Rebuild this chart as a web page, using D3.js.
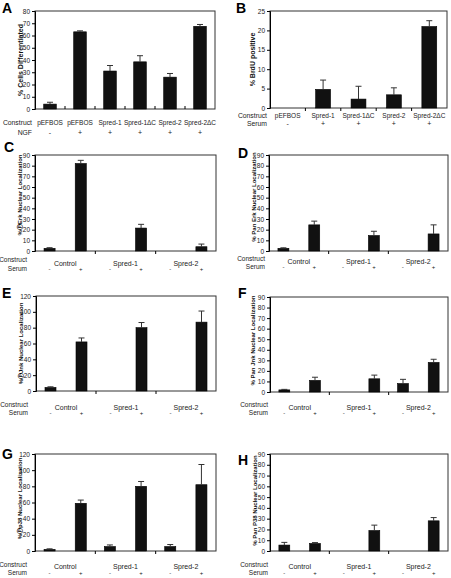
<!DOCTYPE html>
<html><head><meta charset="utf-8">
<script src="https://cdn.jsdelivr.net/npm/d3@7"></script>
<style>
body{margin:0;background:#fff;}
svg{display:block;font-family:"Liberation Sans",Arial,sans-serif;}
</style></head>
<body><svg id="c" width="451" height="578"></svg>
<script>
// ---------- DATA ----------
const constructsA = ["pEFBOS","pEFBOS","Spred-1","Spred-1ΔC","Spred-2","Spred-2ΔC"];
const ngfA = ["-","+","+","+","+","+"];
const valuesA = [4, 63, 31, 38.5, 26, 67.5];
const errorsA = [1.5, 0.8, 4.5, 5, 3, 1.5];
const ticksA = [0,10,20,30,40,50,60,70,80];

const constructsB = ["pEFBOS","Spred-1","Spred-1ΔC","Spred-2","Spred-2ΔC"];
const serumB = ["-","+","+","+","+"];
const valuesB = [0, 4.8, 2.3, 3.4, 21];
const errorsB = [0, 2.4, 3.3, 1.8, 1.5];
const ticksB = [0,5,10,15,20,25];

const groups = ["Control","Spred-1","Spred-2"];
const serumLevels = ["-","+"];
const ticks90 = [0,10,20,30,40,50,60,70,80,90];
const ticks120 = [0,20,40,60,80,100,120];
// values listed as Control-, Control+, Spred-1-, Spred-1+, Spred-2-, Spred-2+
const valuesC = [2.5, 82, 0, 21.5, 0, 4];
const errorsC = [0.6, 3, 0, 3.5, 0, 2.5];
const valuesD = [2.5, 24.5, 0, 14.5, 0, 16];
const errorsD = [0.5, 3.5, 0, 4, 0, 8.5];
const valuesE = [4.5, 62, 0, 80, 0, 87];
const errorsE = [0.8, 5, 0, 6.5, 0, 14];
const valuesF = [2, 11, 0, 12.5, 8, 28];
const errorsF = [0.5, 3, 0, 3.5, 4, 3];
const valuesG = [2, 59, 5.5, 80, 5.5, 82];
const errorsG = [0.7, 4, 2, 6, 2.5, 25];
const valuesH = [5.5, 7, 0, 19, 0, 28];
const errorsH = [2.5, 0.8, 0, 5, 0, 3];

// ---------- DRAW ----------
const svg = d3.select("#c");

function letter(t, x, y){
  svg.append("text").attr("x",x).attr("y",y).attr("font-size",14).attr("font-weight","bold").text(t);
}

function frame(g, x0, x1, y, ticks, yLabel, yLabelX, yLabelSize, yLabelShift){
  g.append("rect").attr("x",x0).attr("y",y.range()[1]).attr("width",x1-x0)
    .attr("height",y.range()[0]-y.range()[1]).attr("fill","none").attr("stroke","#333").attr("stroke-width",1);
  const ax = g.append("g").attr("transform",`translate(${x0},0)`)
    .call(d3.axisLeft(y).tickValues(ticks).tickSize(3).tickPadding(2));
  ax.selectAll("text").attr("font-size",6.5).attr("fill","#222").attr("font-family","Liberation Sans, Arial");
  ax.selectAll("line,path").attr("stroke","#000");
  g.append("text").attr("transform",`translate(${yLabelX},${(y.range()[0]+y.range()[1])/2 + (yLabelShift||0)}) rotate(-90)`)
    .attr("text-anchor","middle").attr("dy","0.35em").attr("font-size",yLabelSize||6.5).attr("font-weight","bold")
    .attr("fill","#111").text(yLabel);
}

function bars(g, data, xf, bw, y){
  const shown = data.filter(d=>d.v>0);
  g.selectAll(null).data(shown).enter().append("rect")
    .attr("x",d=>xf(d)).attr("width",bw).attr("y",d=>y(d.v)).attr("height",d=>y(0)-y(d.v))
    .attr("fill","#111").attr("stroke","#000").attr("stroke-width",0.6);
  const eb = shown.filter(d=>d.e>0);
  g.selectAll(null).data(eb).enter().append("line")
    .attr("x1",d=>xf(d)+bw/2).attr("x2",d=>xf(d)+bw/2).attr("y1",d=>y(d.v)).attr("y2",d=>y(d.v+d.e))
    .attr("stroke","#333").attr("stroke-width",1);
  g.selectAll(null).data(eb).enter().append("line")
    .attr("x1",d=>xf(d)+bw/2-3).attr("x2",d=>xf(d)+bw/2+3).attr("y1",d=>y(d.v+d.e)).attr("y2",d=>y(d.v+d.e))
    .attr("stroke","#333").attr("stroke-width",1);
}

function smallText(g, t, x, y, anchor, size){
  g.append("text").attr("x",x).attr("y",y).attr("text-anchor",anchor||"middle")
   .attr("font-size",size||6.5).attr("fill","#222").text(t);
}

// Single-category panels (A, B)
function singlePanel(o){
  const g = svg.append("g");
  const y = d3.scaleLinear().domain([0, o.ticks[o.ticks.length-1]]).range([o.yZero, o.yTop]);
  const idx = o.cats.map((c,i)=>i);
  const x = d3.scaleBand().domain(idx).range([o.x0,o.x1]).paddingInner(o.pad).paddingOuter(o.pad/2);
  frame(g, o.x0, o.x1, y, o.ticks, o.yLabel, o.yLabelX, o.yLabelSize);
  const bounds = idx.slice(1).map(i=>x(i) - x.step()*x.paddingInner()/2);
  g.selectAll(null).data(bounds).enter().append("line")
    .attr("x1",d=>d).attr("x2",d=>d).attr("y1",o.yZero+o.tickDir[0]).attr("y2",o.yZero+o.tickDir[1])
    .attr("stroke","#000");
  const data = idx.map(i=>({i, v:o.values[i], e:o.errors[i]}));
  bars(g, data, d=>x(d.i), x.bandwidth(), y);
  smallText(g, "Construct", o.labX, o.row1, "end", 6.8);
  smallText(g, o.row2Name, o.labX, o.row2, "end", 6.8);
  idx.forEach(i=>{
    smallText(g, o.cats[i], x(i)+x.bandwidth()/2, o.row1, "middle", 6.5);
    smallText(g, o.signs[i], x(i)+x.bandwidth()/2, o.row2, "middle", 7);
  });
}

// Grouped panels (C-H)
function groupPanel(o){
  const g = svg.append("g");
  const y = d3.scaleLinear().domain([0, o.ticks[o.ticks.length-1]]).range([o.yZero, o.yTop]);
  const x = d3.scaleBand().domain(groups).range([o.x0,o.x1]).padding(0);
  const xs = d3.scaleBand().domain(serumLevels).range([0,x.bandwidth()]).paddingInner(0.645).paddingOuter(0.29);
  frame(g, o.x0, o.x1, y, o.ticks, o.yLabel, o.yLabelX, 6, o.yLabelShift);
  const bounds = groups.slice(1).map(gr=>x(gr));
  g.selectAll(null).data(bounds).enter().append("line")
    .attr("x1",d=>d).attr("x2",d=>d).attr("y1",o.yZero).attr("y2",o.yZero+3).attr("stroke","#000");
  const data = [];
  groups.forEach((gr,gi)=>serumLevels.forEach((s,si)=>{
    data.push({gr, s, v:o.values[gi*2+si], e:o.errors[gi*2+si]});
  }));
  bars(g, data, d=>x(d.gr)+xs(d.s), xs.bandwidth(), y);
  smallText(g, "Construct", o.labX, o.rowC, "end", 6.5);
  smallText(g, "Serum", o.labX, o.rowS, "end", 6.5);
  groups.forEach(gr=>smallText(g, gr, x(gr)+x.bandwidth()/2, o.rowG, "middle", 7));
  data.forEach(d=>smallText(g, d.s, x(d.gr)+xs(d.s)+xs.bandwidth()/2, o.rowS, "middle", 6));
}

letter("A",2,13); letter("B",236,13); letter("C",4,152); letter("D",238,158);
letter("E",2,298); letter("F",238,298); letter("G",2,459); letter("H",238,465);

singlePanel({cats:constructsA, signs:ngfA, values:valuesA, errors:errorsA, ticks:ticksA,
  x0:35, x1:215, yTop:11, yZero:109, pad:0.58, yLabel:"% Cells Differentiated", yLabelX:21, yLabelSize:7,
  labX:32, row1:125, row2:135, row2Name:"NGF", tickDir:[-3,0]});
singlePanel({cats:constructsB, signs:serumB, values:valuesB, errors:errorsB, ticks:ticksB,
  x0:270, x1:447, yTop:11, yZero:108, pad:0.58, yLabel:"% BrdU positive", yLabelX:253, yLabelSize:7,
  labX:267, row1:118, row2:126, row2Name:"Serum", tickDir:[0,3]});

groupPanel({values:valuesC, errors:errorsC, ticks:ticks90, x0:35, x1:216, yTop:155, yZero:251,
  yLabel:"%\u24C5Erk Nuclear Localization", yLabelX:20, yLabelShift:-8, labX:27, rowC:262, rowS:271, rowG:266});
groupPanel({values:valuesD, errors:errorsD, ticks:ticks90, x0:269, x1:448, yTop:155, yZero:251,
  yLabel:"% Pan Erk Nuclear Localization", yLabelX:254, yLabelShift:-6, labX:265, rowC:261, rowS:269, rowG:264});
groupPanel({values:valuesE, errors:errorsE, ticks:ticks120, x0:36, x1:216, yTop:296, yZero:391,
  yLabel:"%\u24C5Jnk Nuclear Localization", yLabelX:21, labX:28, rowC:407, rowS:415, rowG:410});
groupPanel({values:valuesF, errors:errorsF, ticks:ticks90, x0:270, x1:448, yTop:297, yZero:392,
  yLabel:"% Pan Jnk Nuclear Localization", yLabelX:253, yLabelShift:-4, labX:268, rowC:407, rowS:415, rowG:410});
groupPanel({values:valuesG, errors:errorsG, ticks:ticks120, x0:35, x1:216, yTop:454, yZero:551,
  yLabel:"%\u24C5p38 Nuclear Localization", yLabelX:20, yLabelShift:-4, labX:27, rowC:567, rowS:575, rowG:569});
groupPanel({values:valuesH, errors:errorsH, ticks:ticks90, x0:270, x1:448, yTop:454, yZero:551,
  yLabel:"% Pan P38 Nuclear Localization", yLabelX:255, yLabelShift:-2, labX:268, rowC:567, rowS:575, rowG:569});
</script></body></html>
